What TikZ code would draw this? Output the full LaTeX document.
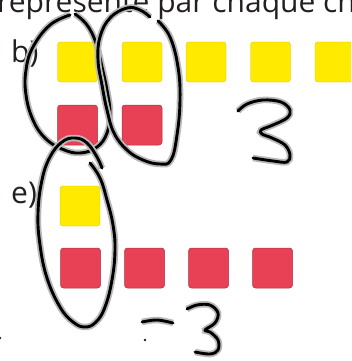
\documentclass[tikz,border=0pt]{standalone}
\usepackage{fontspec}
\setmainfont{Open Sans}
\usepackage{tikz}
\usetikzlibrary{positioning}

\definecolor{tileyellow}{RGB}{255,234,0}
\definecolor{tilered}{RGB}{232,64,84}
\definecolor{printink}{RGB}{35,31,32}

\begin{document}
\begin{tikzpicture}[x=1pt, y=-1pt,
    yel/.style={fill=tileyellow, draw=tileyellow!85!black, line width=.4pt, rounded corners=3pt, minimum size=40pt, inner sep=0pt},
    red/.style={fill=tilered, draw=tilered!75!black, line width=.5pt, rounded corners=3pt, minimum size=40pt, inner sep=0pt},
    lbl/.style={anchor=base west, inner sep=0pt, text=printink, font=\fontsize{30}{36}\selectfont},
    pen/.style={line width=2.9pt, line cap=round, line join=round, preaction={draw=gray!55, line width=6.5pt}}]
    \useasboundingbox (0,0) rectangle (351,361);
    \clip (0,0) rectangle (351,361);
    % printed part
    \node[lbl] (head) at (-3,13) {représente par chaque ch};
    \node[lbl] (labb) at (11,63) {b)};
    \node[lbl] (labe) at (11,203) {e)};
    \node[yel] (yb1) at (77.5,62) {};
    \node[yel] (yb2) at (142,62) {};
    \node[yel] (yb3) at (206,62) {};
    \node[yel] (yb4) at (270.5,62) {};
    \node[yel] (yb5) at (335,62) {};
    \node[red] (rb1) at (77.5,125) {};
    \node[red] (rb2) at (142,125) {};
    \node[yel] (ye1) at (80,206) {};
    \node[red] (re1) at (80.5,268) {};
    \node[red] (re2) at (144.5,268) {};
    \node[red] (re3) at (208.5,268) {};
    \node[red] (re4) at (272.5,268) {};
    \fill[printink] (145,340) circle (1.3);
    \fill[printink] (0,338) circle (1.3);
    % handwriting
    \draw[pen] plot[smooth, tension=.7] coordinates {(70,15) (50,25) (33,47) (26,70) (26,95) (33,120) (45,138) (62,149) (80,153) (97,147) (107,133) (110,113) (107,90) (102,67) (96,43) (87,25) (75,14)};
    \draw[pen] plot[smooth, tension=.7] coordinates {(150,17) (140,10) (127,8) (110,18) (100,37) (98,60) (102,85) (107,110) (114,133) (127,150) (143,160) (160,164) (171,160) (177,135) (180,100) (178,67) (170,37) (158,21)};
    \draw[pen] plot[smooth, tension=.7] coordinates {(90,163) (100,178) (107,200) (113,225) (115,250) (112,280) (105,307) (96,322) (85,327) (73,322) (60,307) (47,278) (40,245) (38,213) (42,180) (50,157) (62,142) (75,138) (87,143) (97,157) (102,168)};
    \draw[pen] plot[smooth, tension=.6] coordinates {(238,111) (247,104) (263,100) (281,102) (290,110) (287,118) (273,125) (261,130) (262,134) (272,138) (285,145) (290,155) (287,162) (273,161) (253,158)};
    \draw[pen] plot[smooth, tension=.6] coordinates {(142,322) (157,320) (173,323)};
    \draw[pen] plot[smooth, tension=.6] coordinates {(187,309) (197,305) (210,305) (218,313) (215,323) (205,330) (210,332) (218,340) (218,350) (210,354) (195,352)};
\end{tikzpicture}
\end{document}
